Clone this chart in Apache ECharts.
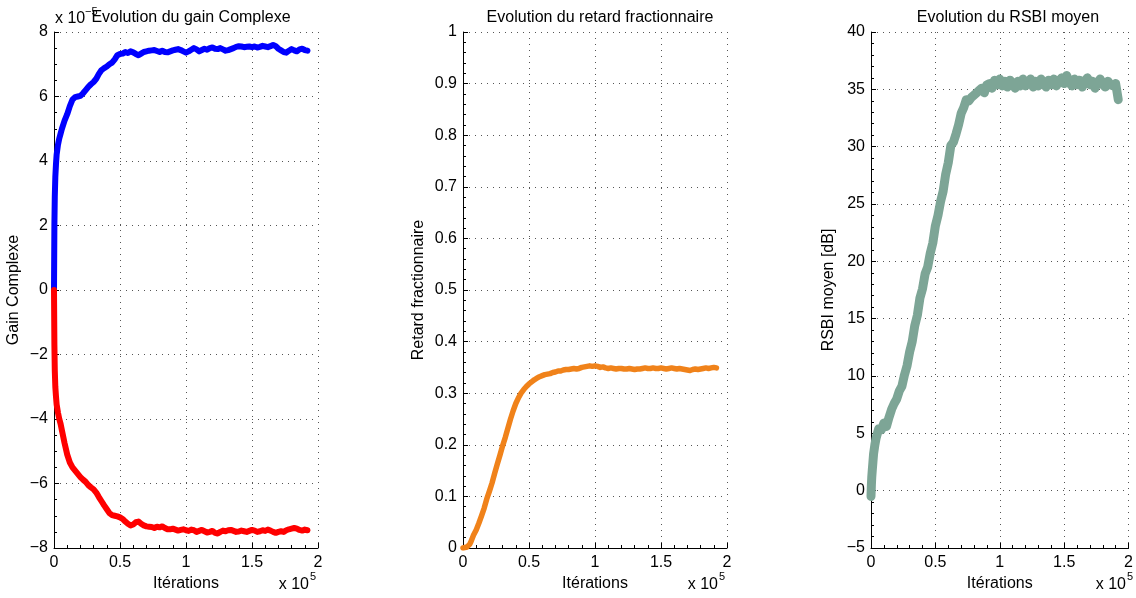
<!DOCTYPE html>
<html>
<head>
<meta charset="utf-8">
<script src="https://cdn.jsdelivr.net/npm/echarts@6/dist/echarts.min.js"></script>
<style>
html,body{margin:0;padding:0;background:#fff;}
#chart{width:1136px;height:598px;}
</style>
</head>
<body>
<div id="chart"></div>
<script>
// Iterations in units of 1e5
const iterations = [0, 0.003, 0.006, 0.01, 0.015, 0.02, 0.03, 0.04, 0.05,
  0.06, 0.08, 0.10, 0.12, 0.14, 0.16, 0.18, 0.20, 0.22, 0.24, 0.26, 0.28, 0.30, 0.32, 0.34, 0.36, 0.38, 0.40,
  0.42, 0.44, 0.46, 0.48, 0.50, 0.52, 0.54, 0.56, 0.58, 0.60, 0.62, 0.64, 0.66, 0.68, 0.70, 0.72, 0.74, 0.76,
  0.78, 0.80, 0.82, 0.84, 0.86, 0.88, 0.90, 0.92, 0.94, 0.96, 0.98, 1.00, 1.02, 1.04, 1.06, 1.08, 1.10, 1.12,
  1.14, 1.16, 1.18, 1.20, 1.22, 1.24, 1.26, 1.28, 1.30, 1.32, 1.34, 1.36, 1.38, 1.40, 1.42, 1.44, 1.46, 1.48,
  1.50, 1.52, 1.54, 1.56, 1.58, 1.60, 1.62, 1.64, 1.66, 1.68, 1.70, 1.72, 1.74, 1.76, 1.78, 1.80, 1.82, 1.84,
  1.86, 1.88, 1.90, 1.92];

// Complex gain, units of 1e-5 (blue = positive part, red = negative part)
const gainBlue = [0, 2.0, 2.9, 3.5, 3.9, 4.2, 4.5, 4.7, 4.85,
  5.0, 5.25, 5.45, 5.7, 5.9, 5.98, 6.0, 6.02, 6.1, 6.2, 6.3, 6.38, 6.45, 6.55, 6.7, 6.82, 6.88, 6.93,
  7.0, 7.05, 7.15, 7.28, 7.32, 7.33, 7.38, 7.35, 7.4, 7.37, 7.32, 7.28, 7.33, 7.38, 7.4, 7.42, 7.43, 7.44,
  7.41, 7.38, 7.42, 7.38, 7.37, 7.4, 7.43, 7.45, 7.47, 7.44, 7.4, 7.36, 7.4, 7.45, 7.5, 7.46, 7.4, 7.44,
  7.48, 7.45, 7.5, 7.52, 7.48, 7.47, 7.5, 7.46, 7.42, 7.44, 7.47, 7.5, 7.54, 7.56, 7.55, 7.53, 7.54, 7.55,
  7.53, 7.55, 7.52, 7.54, 7.57, 7.55, 7.53, 7.56, 7.6, 7.56, 7.48, 7.43, 7.38, 7.36, 7.42, 7.47, 7.43, 7.4,
  7.46, 7.48, 7.44, 7.42];

const gainRed = [0, -1.7, -2.5, -3.0, -3.3, -3.55, -3.8, -4.0, -4.15,
  -4.35, -4.75, -5.1, -5.35, -5.5, -5.6, -5.7, -5.8, -5.88, -5.95, -6.05, -6.12, -6.18, -6.28, -6.42, -6.55, -6.68, -6.8,
  -6.92, -6.98, -7.0, -7.02, -7.05, -7.1, -7.18, -7.25, -7.3, -7.27, -7.2, -7.18, -7.25, -7.3, -7.33, -7.34, -7.35, -7.38,
  -7.34, -7.36, -7.33, -7.38, -7.42, -7.42, -7.4, -7.43, -7.46, -7.44, -7.42, -7.45, -7.47, -7.43, -7.45, -7.5, -7.47, -7.44,
  -7.48, -7.52, -7.5, -7.47, -7.53, -7.55, -7.5, -7.46, -7.48, -7.45, -7.44, -7.47, -7.5, -7.49, -7.46, -7.48, -7.5, -7.47,
  -7.44, -7.46, -7.5, -7.48, -7.45, -7.47, -7.43, -7.46, -7.5, -7.53, -7.5, -7.48, -7.5, -7.45, -7.42, -7.4, -7.38, -7.4,
  -7.44, -7.46, -7.43, -7.45];

// Fractional delay
const retard = [0, 0, 0, 0, 0, 0, 0.002, 0.004, 0.007,
  0.012, 0.025, 0.035, 0.048, 0.062, 0.077, 0.095, 0.11, 0.126, 0.145, 0.163, 0.18, 0.198, 0.214, 0.232, 0.25, 0.266, 0.28,
  0.291, 0.3, 0.307, 0.313, 0.318, 0.322, 0.326, 0.329, 0.332, 0.334, 0.336, 0.337, 0.338, 0.34, 0.341, 0.343, 0.343, 0.345,
  0.346, 0.346, 0.347, 0.348, 0.347, 0.348, 0.35, 0.351, 0.352, 0.353, 0.352, 0.353, 0.352, 0.35, 0.351, 0.349, 0.348, 0.349,
  0.348, 0.347, 0.348, 0.348, 0.347, 0.347, 0.348, 0.347, 0.346, 0.347, 0.347, 0.348, 0.349, 0.348, 0.348, 0.349, 0.348, 0.348,
  0.349, 0.348, 0.347, 0.348, 0.349, 0.348, 0.347, 0.348, 0.347, 0.346, 0.345, 0.344, 0.346, 0.347, 0.346, 0.347, 0.348, 0.349,
  0.348, 0.349, 0.35, 0.349];

// Mean RSBI [dB]
const rsbi = [-0.5, 0.5, 1.2, 1.8, 2.5, 3.2, 4.0, 4.6, 5.0,
  5.4, 5.3, 5.9, 5.6, 6.4, 7.1, 7.6, 8.0, 8.7, 9.1, 10.1, 10.9, 12.1, 13.0, 14.4, 15.3, 16.8, 17.6,
  18.9, 19.5, 20.7, 21.6, 23.1, 24.0, 25.2, 26.1, 27.6, 28.6, 30.1, 30.4, 31.1, 31.9, 32.9, 33.4, 34.1, 34.0,
  34.3, 34.5, 34.7, 34.9, 35.1, 34.7, 35.4, 35.5, 35.1, 35.8, 35.4, 35.9, 35.3, 35.7, 35.2, 35.8, 35.5, 35.1,
  35.7, 35.3, 35.9, 35.3, 35.6, 35.9, 35.2, 35.7, 35.3, 35.9, 35.5, 35.2, 35.8, 35.4, 35.9, 35.3, 35.7, 36.0,
  35.5, 36.2, 35.6, 35.3, 35.9, 35.4, 35.8, 35.2, 35.7, 36.0, 35.4, 35.7, 35.1, 35.6, 35.9, 35.4, 35.2, 35.7,
  35.4, 35.3, 35.5, 34.1];

const titles = ['Evolution du gain Complexe', 'Evolution du retard fractionnaire', 'Evolution du RSBI moyen'];
const yNames = ['Gain Complexe', 'Retard fractionnaire', 'RSBI moyen [dB]'];
const xName = 'Itérations';
const xTicks = ['0', '0.5', '1', '1.5', '2'];

const FONT = 'Liberation Sans';
const FS = 16;
const gridLefts = [54, 463, 871];
const GW = 264, GT = 32, GH = 516;

const chart = echarts.init(document.getElementById('chart'));
const fmtMinus = v => String(+v.toFixed(6)).replace('-', '\u2212');

function xAxisOf(i) {
  return {
    gridIndex: i, type: 'value', min: 0, max: 2, interval: 0.5,
    name: xName, nameLocation: 'middle', nameGap: 23,
    nameTextStyle: {fontFamily: FONT, fontSize: FS, color: '#000'},
    axisLine: {show: true, onZero: false, lineStyle: {color: '#000', width: 1}},
    axisTick: {show: true, inside: true, length: 5, lineStyle: {color: '#000'}},
    minorTick: {show: true, splitNumber: 5, length: 3, lineStyle: {color: '#000'}},
    axisLabel: {fontFamily: FONT, fontSize: FS, color: '#000', margin: 7,
      formatter: v => xTicks[Math.round(v / 0.5)]},
    splitLine: {show: true, lineStyle: {color: '#555', type: [1, 5], width: 1}}
  };
}
function yAxisOf(i, min, max, interval, nameGap) {
  return {
    gridIndex: i, type: 'value', min: min, max: max, interval: interval,
    name: yNames[i], nameLocation: 'middle', nameGap: nameGap, nameRotate: 90,
    nameTextStyle: {fontFamily: FONT, fontSize: FS, color: '#000'},
    axisLine: {show: true, onZero: false, lineStyle: {color: '#000', width: 1}},
    axisTick: {show: true, inside: true, length: 5, lineStyle: {color: '#000'}},
    minorTick: {show: true, splitNumber: (i === 0 ? 4 : 5), length: 3, lineStyle: {color: '#000'}},
    axisLabel: {fontFamily: FONT, fontSize: FS, color: '#000', margin: 6, formatter: fmtMinus},
    splitLine: {show: true, lineStyle: {color: '#555', type: [1, 5], width: 1}}
  };
}
const pairs = arr => iterations.map((x, k) => [x, arr[k]]);
function lineSeries(i, arr, color, w) {
  return {
    type: 'line', xAxisIndex: i, yAxisIndex: i, data: pairs(arr),
    showSymbol: false, symbol: 'none', animation: false,
    lineStyle: {color: color, width: w, join: 'round', cap: 'round'}
  };
}

const graphics = [];
gridLefts.forEach(l => {
  const r = l + GW;
  graphics.push({type: 'text', x: r - 9, y: 585,
    style: {text: 'x 10', font: FS + 'px "' + FONT + '"', fill: '#000', textAlign: 'right', textVerticalAlign: 'middle'}});
  graphics.push({type: 'text', x: r - 8, y: 577,
    style: {text: '5', font: '11px "' + FONT + '"', fill: '#000', textAlign: 'left', textVerticalAlign: 'middle'}});
});
graphics.push({type: 'text', x: 55, y: 19,
  style: {text: 'x 10', font: FS + 'px "' + FONT + '"', fill: '#000', textAlign: 'left', textVerticalAlign: 'middle'}});
graphics.push({type: 'text', x: 85, y: 12,
  style: {text: '\u22125', font: '11px "' + FONT + '"', fill: '#000', textAlign: 'left', textVerticalAlign: 'middle'}});

chart.setOption({
  backgroundColor: '#fff',
  animation: false,
  title: titles.map((t, i) => ({
    text: t, left: gridLefts[i] + GW / 2, top: 5, textAlign: 'center',
    textStyle: {fontFamily: FONT, fontSize: FS, fontWeight: 'normal', color: '#000'}
  })),
  grid: gridLefts.map(l => ({left: l, top: GT, width: GW, height: GH, containLabel: false})),
  xAxis: [xAxisOf(0), xAxisOf(1), xAxisOf(2)],
  yAxis: [yAxisOf(0, -8, 8, 2, 32), yAxisOf(1, 0, 1, 0.1, 36), yAxisOf(2, -5, 40, 5, 34)],
  series: [
    lineSeries(0, gainBlue, '#0000FF', 6),
    lineSeries(0, gainRed, '#FF0000', 6),
    lineSeries(1, retard, '#F0821A', 5.5),
    lineSeries(2, rsbi, '#7DA596', 9)
  ],
  graphic: graphics
});
</script>
</body>
</html>
